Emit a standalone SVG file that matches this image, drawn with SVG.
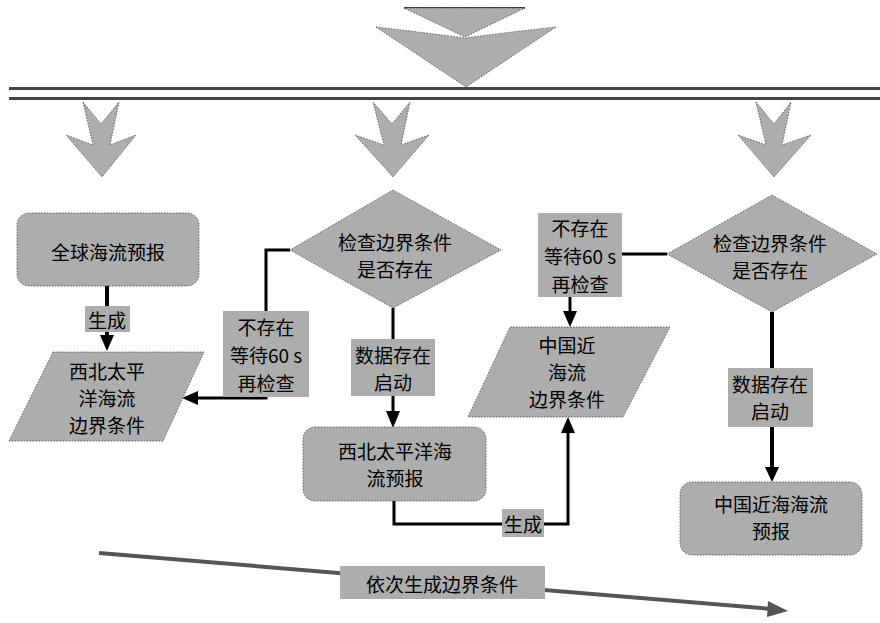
<svg xmlns="http://www.w3.org/2000/svg" width="880" height="623" viewBox="0 0 880 623">
<defs>
<style>
.shape{fill:#adadad;stroke:#333;stroke-width:0.7;stroke-dasharray:1.5 1.5}
.lbl{fill:#adadad}
.t{font-family:"Noto Sans CJK SC","Liberation Serif",serif;font-size:19px;fill:#000;text-anchor:middle;dominant-baseline:central}
.ln{fill:none;stroke:#000;stroke-width:3}
.thick{fill:none;stroke:#000;stroke-width:4}
.ah{fill:#000}
</style>
</defs>
<rect width="880" height="623" fill="#fff"/>

<g id="top-arrow">
<line x1="404" y1="8" x2="525" y2="8" stroke="#000" stroke-width="1.5"/>
<polygon class="shape" points="404,8 525,8 465,37"/>
<path class="shape" d="M376,27 Q420,32 465,38 Q510,32 556,27 L466,87 Z"/>
</g>

<g id="bar">
<rect x="9" y="87" width="871" height="3" fill="#444"/>
<rect x="9" y="97" width="871" height="3" fill="#444"/>
</g>

<g id="arrow-left">
<polygon class="shape" points="83,102 101,124 119,102 110,145 136,135 102,177 66,135 93,145"/>
</g>
<g id="arrow-mid">
<polygon class="shape" points="373,102 392,124 410,102 401,145 429,135 393,177 355,135 384,145"/>
</g>
<g id="arrow-right">
<polygon class="shape" points="756,102 774,124 791,102 782,145 811,135 774,177 738,135 766,145"/>
</g>

<g id="connectors">
<line class="thick" x1="107" y1="286" x2="107" y2="336"/>
<polygon class="ah" points="100,335 114,335 107,351"/>
<polyline class="ln" points="290,250 266,250 266,398 197,398"/>
<polygon class="ah" points="198,391 198,405 182,398"/>
<line class="ln" x1="393" y1="308" x2="393" y2="412"/>
<polygon class="ah" points="386,411 400,411 393,428"/>
<polyline class="ln" points="394,501 394,524 568,524 568,432"/>
<polygon class="ah" points="561,433 575,433 568,417"/>
<polyline class="ln" points="667,254 620,254"/>
<line class="ln" x1="570" y1="297" x2="570" y2="312"/>
<polygon class="ah" points="563,311 577,311 570,327"/>
<line class="thick" x1="772" y1="312" x2="772" y2="468"/>
<polygon class="ah" points="765,467 779,467 772,482"/>
<line x1="99" y1="553" x2="772" y2="609" stroke="#555" stroke-width="4"/>
<polygon points="768,601 788,611 767,617" fill="#555"/>
</g>

<g id="n-global">
<rect class="shape" x="17" y="213" width="182" height="73" rx="12"/>
<text class="t" x="108" y="251">全球海流预报</text>
</g>

<g id="n-nw-boundary">
<polygon class="shape" points="53,352 204,352 163,441 9,441"/>
<text class="t" x="107" y="370">西北太平</text>
<text class="t" x="107" y="397">洋海流</text>
<text class="t" x="107" y="424">边界条件</text>
</g>

<g id="n-diamond1">
<polygon class="shape" points="393,190 501,250 393,308 290,250"/>
<text class="t" x="395" y="241">检查边界条件</text>
<text class="t" x="395" y="268">是否存在</text>
</g>

<g id="n-nw-forecast">
<rect class="shape" x="303" y="427" width="183" height="74" rx="12"/>
<text class="t" x="395" y="450">西北太平洋海</text>
<text class="t" x="395" y="477">流预报</text>
</g>

<g id="n-china-boundary">
<polygon class="shape" points="510,327 670,327 623,417 468,417"/>
<text class="t" x="567" y="344">中国近</text>
<text class="t" x="567" y="371">海流</text>
<text class="t" x="567" y="398">边界条件</text>
</g>

<g id="n-diamond2">
<polygon class="shape" points="772,195 877,254 772,312 667,254"/>
<text class="t" x="770" y="242">检查边界条件</text>
<text class="t" x="770" y="269">是否存在</text>
</g>

<g id="n-china-forecast">
<rect class="shape" x="680" y="482" width="182" height="73" rx="12"/>
<text class="t" x="771" y="503">中国近海海流</text>
<text class="t" x="771" y="530">预报</text>
</g>

<g id="labels">
<rect class="lbl" x="85" y="306" width="45" height="26"/>
<text class="t" x="107" y="319">生成</text>

<rect class="lbl" x="223" y="311" width="86" height="86"/>
<text class="t" x="266" y="326">不存在</text>
<text class="t" x="266" y="354">等待60 s</text>
<text class="t" x="266" y="382">再检查</text>

<rect class="lbl" x="351" y="339" width="84" height="57"/>
<text class="t" x="393" y="354">数据存在</text>
<text class="t" x="393" y="381">启动</text>

<rect class="lbl" x="538" y="213" width="84" height="84"/>
<text class="t" x="580" y="227">不存在</text>
<text class="t" x="580" y="255">等待60 s</text>
<text class="t" x="580" y="283">再检查</text>

<rect class="lbl" x="502" y="509" width="42" height="28"/>
<text class="t" x="523" y="523">生成</text>

<rect class="lbl" x="728" y="368" width="85" height="59"/>
<text class="t" x="770" y="383">数据存在</text>
<text class="t" x="770" y="410">启动</text>

<rect class="lbl" x="340" y="566" width="205" height="33"/>
<text class="t" x="442" y="583">依次生成边界条件</text>
</g>
</svg>
